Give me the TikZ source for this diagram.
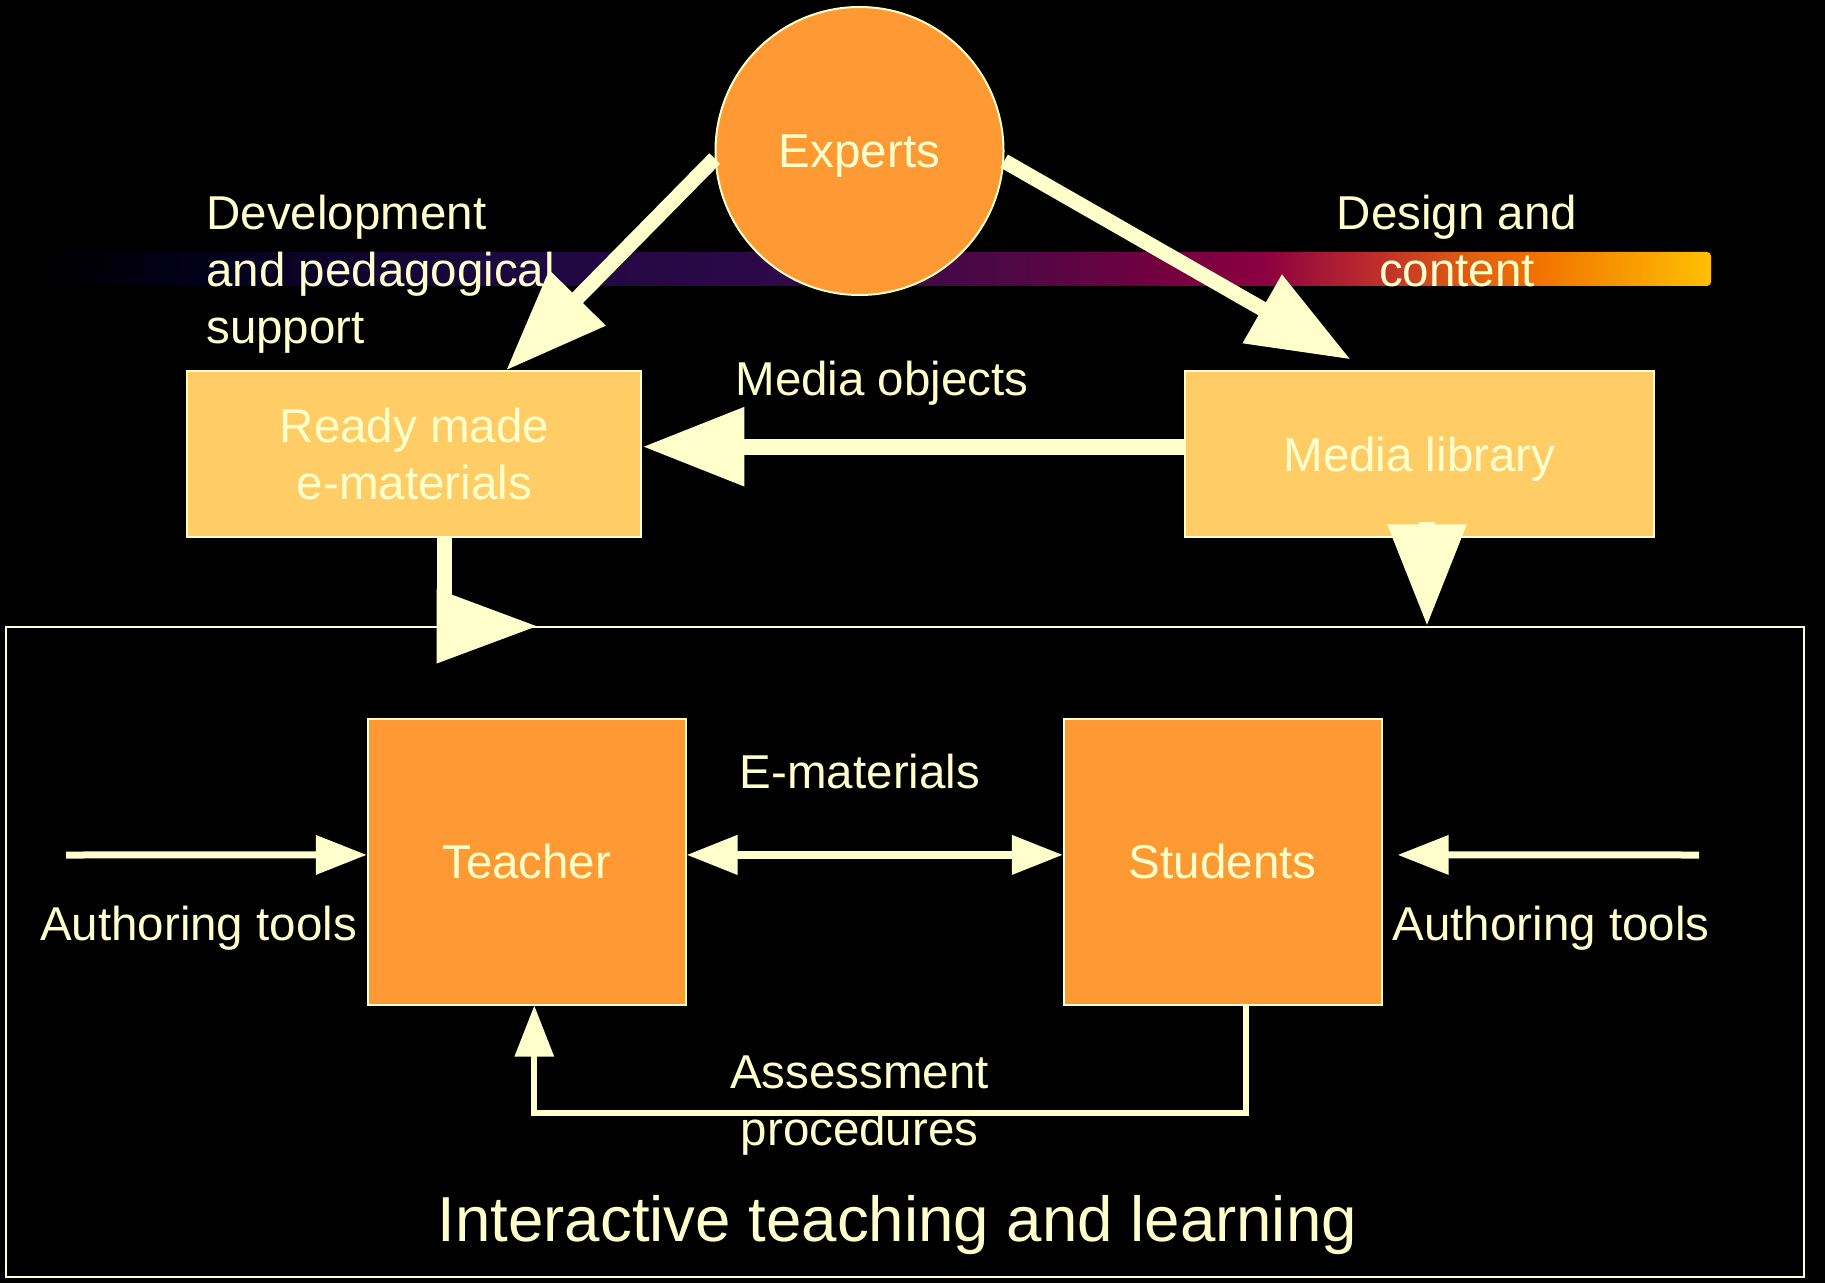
\documentclass[tikz,border=0pt]{standalone}
\usepackage{fontspec}
\setmainfont{Liberation Sans}
\usetikzlibrary{arrows.meta,calc}
\definecolor{cream}{HTML}{FFFFCC}
\definecolor{orng}{HTML}{FF9933}
\definecolor{lorng}{HTML}{FFCC66}
\definecolor{ga}{HTML}{03001A}
\definecolor{gb}{HTML}{1C0840}
\definecolor{gc}{HTML}{30084A}
\definecolor{gd}{HTML}{4D0845}
\definecolor{ge}{HTML}{700040}
\definecolor{gf}{HTML}{8B0040}
\definecolor{gg}{HTML}{C0302A}
\definecolor{gh}{HTML}{E06010}
\definecolor{gi}{HTML}{F07000}
\definecolor{gj}{HTML}{FFC000}
\pgfdeclarehorizontalshading{barshade}{100bp}{color(0bp)=(black); color(25bp)=(black); color(29.6bp)=(ga); color(38.6bp)=(gb); color(47.6bp)=(gc); color(53.6bp)=(gd); color(58.1bp)=(ge); color(61.5bp)=(gf); color(65.1bp)=(gg); color(67.8bp)=(gh); color(69.6bp)=(gi); color(75bp)=(gj); color(100bp)=(gj)}
\tikzset{
  lbl/.style={text=cream, font=\fontsize{23.75pt}{28.5pt}\selectfont, inner sep=0pt},
  boxnode/.style={rectangle, draw=cream, line width=1pt, inner sep=0pt, text=cream,
    font=\fontsize{23.75pt}{28.5pt}\selectfont, align=center},
  bigarrow/.style={draw=cream, line width=7.5pt, -{Triangle[length=51pt,width=37.5pt]}},
  thinarrow/.style={draw=cream, line width=3.5pt, -{Triangle[length=25.5pt,width=19pt]}},
  bothtips/.style={{Triangle[length=25.5pt,width=19pt]}-{Triangle[length=25.5pt,width=19pt]}}
}
\begin{document}
\begin{tikzpicture}[x=0.5pt,y=-0.5pt]
\fill[black] (0,0) rectangle (1825,1283);
\useasboundingbox (0,0) rectangle (1825,1283);
% gradient bar
\shade[shading=barshade, rounded corners=2pt] (47,252) rectangle (1711,286);
% frame
\node[draw=cream, line width=1pt, minimum width=899.1pt, minimum height=324.75pt, inner sep=0pt] (frame) at (904.9,952) {};
% main nodes
\node[circle, fill=orng, draw=cream, line width=1pt, minimum size=144pt, inner sep=0pt,
  text=cream, font=\fontsize{23.75pt}{28.5pt}\selectfont, text depth=0pt] (E) at (859.5,151) {Experts};
\node[boxnode, fill=lorng, minimum width=227pt, minimum height=82.5pt] (ready) at (414.4,454) {Ready made\\e-materials};
\node[boxnode, fill=lorng, minimum width=234.5pt, minimum height=82.5pt, text depth=0pt] (media) at (1419.4,454) {Media library};
\node[boxnode, fill=orng, minimum width=158.9pt, minimum height=142.6pt] (teacher) at (526.7,861.9) {Teacher};
\node[boxnode, fill=orng, minimum width=158.9pt, minimum height=142.6pt] (students) at (1222.7,861.9) {Students};
% labels
\node[lbl, anchor=north west, align=left] (dev) at (206,195) {Development\\and pedagogical\\support};
\node[lbl, anchor=north, align=center] (design) at (1457,195) {Design and\\content};
\node[lbl, anchor=base] (mobj) at (882,395) {Media objects};
\node[lbl, anchor=base] (emat) at (860,788.7) {E-materials};
\node[lbl, anchor=base] (authl) at (198.5,940.5) {Authoring tools};
\node[lbl, anchor=base] (authr) at (1551,940.5) {Authoring tools};
\node[lbl, anchor=north, align=center] (assess) at (859.6,1055.3) {Assessment\\procedures};
\node[lbl, anchor=base, font=\fontsize{31.8pt}{38pt}\selectfont] (itl) at (897.3,1241.6) {Interactive teaching and learning};
% big arrows
\draw[bigarrow] (E.183.6) -- ([xshift=45.8pt]ready.north);
\draw[bigarrow] (E.356.4) -- ([xshift=-34.35pt,yshift=5.5pt]media.north);
\draw[bigarrow, line width=8pt] ([yshift=3.65pt]media.west) -- ([yshift=3.65pt]ready.east);
% ready -> frame
\coordinate (r4) at ([xshift=15pt]ready.south);
\coordinate (a4x) at ([xshift=46.1pt]r4);
\coordinate (a4) at (a4x |- frame.north);
\draw[cream, line width=7.8pt] (r4) -- ++(0,70);
\fill[cream] (a4) -- ++(-100,-37.3) -- ++(0,74.6) -- cycle;
% media -> frame
\coordinate (m5) at ([xshift=3.8pt]media.south);
\draw[bigarrow, line width=8pt] ([yshift=8pt]m5) -- (m5 |- frame.north);
% thin arrows
\coordinate (atl) at (66,855);
\coordinate (atr) at (1699,855);
\draw[thinarrow] (atl) -- ([yshift=3.5pt]teacher.west);
\draw[thinarrow] (atr) -- ([xshift=7.5pt,yshift=3.5pt]students.east);
\draw[draw=cream, line width=3.75pt, bothtips] ([yshift=3.5pt]teacher.east) -- ([yshift=3.5pt]students.west);
\draw[thinarrow, line width=3pt] ([xshift=11.4pt]students.south) -- ++(0,107.6) -| ([xshift=3.8pt]teacher.south);
\end{tikzpicture}
\end{document}
